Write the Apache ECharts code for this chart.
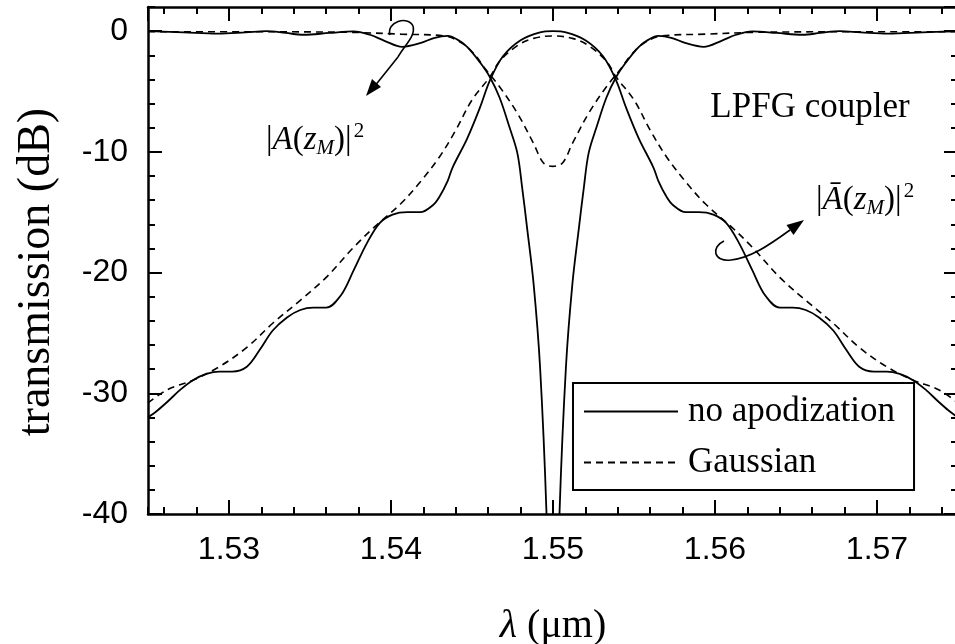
<!DOCTYPE html>
<html>
<head>
<meta charset="utf-8">
<script src="https://cdn.jsdelivr.net/npm/echarts@6/dist/echarts.min.js"></script>
<style>
  html, body { margin: 0; padding: 0; background: #fff; }
  #chart { width: 955px; height: 644px; }
</style>
</head>
<body>
<div id="chart"></div>
<script>
// |A(zM)|^2, no apodization (through port)
const throughPlain = [
  [1.5250, 0], [1.5272, -0.1], [1.5293, -0.2], [1.5310, -0.1], [1.5323, 0],
  [1.5335, -0.15], [1.5346, -0.3], [1.5362, -0.15], [1.5377, -0.02], [1.5387, -0.3],
  [1.5396, -0.8], [1.5407, -1.3], [1.5418, -1.0], [1.5427, -0.55], [1.5435, -0.4],
  [1.5441, -0.7], [1.5447, -1.3], [1.5455, -2.6], [1.5461, -3.8], [1.5467, -5.5],
  [1.5473, -7.9], [1.5478, -10.1], [1.5481, -13.0], [1.5484, -16.3], [1.5488, -20.9],
  [1.5492, -27.8], [1.5496, -40], [1.5500, -60],
  [1.5504, -40], [1.5508, -27.8], [1.5512, -20.9], [1.5516, -16.3], [1.5519, -13.0],
  [1.5522, -10.1], [1.5527, -7.9], [1.5533, -5.5], [1.5539, -3.8], [1.5545, -2.6],
  [1.5553, -1.3], [1.5559, -0.7], [1.5565, -0.4], [1.5573, -0.55], [1.5582, -1.0],
  [1.5593, -1.3], [1.5604, -0.8], [1.5613, -0.3], [1.5623, -0.02], [1.5638, -0.15],
  [1.5654, -0.3], [1.5665, -0.15], [1.5677, 0], [1.5690, -0.1], [1.5707, -0.2],
  [1.5728, -0.1], [1.5750, 0]
];

// |Ā(zM)|^2, no apodization (cross port)
const crossPlain = [
  [1.5250, -32.0], [1.5256, -31.4], [1.5262, -30.7], [1.5270, -29.7], [1.5278, -28.9],
  [1.5286, -28.4], [1.5294, -28.2], [1.5302, -28.2], [1.5311, -27.8], [1.5319, -26.4],
  [1.5327, -24.8], [1.5336, -23.7], [1.5344, -23.1], [1.5352, -22.9], [1.5360, -22.9],
  [1.5369, -21.9], [1.5377, -19.8], [1.5385, -17.6], [1.5393, -15.9], [1.5401, -15.2],
  [1.5410, -15.0], [1.5418, -15.0], [1.5426, -14.4], [1.5430, -13.7], [1.5435, -12.4],
  [1.5438, -11.3], [1.5447, -8.9], [1.5455, -6.3], [1.5461, -4.1], [1.5469, -2.1],
  [1.5480, -0.75], [1.5492, -0.1], [1.5500, 0],
  [1.5508, -0.1], [1.5520, -0.75], [1.5531, -2.1], [1.5539, -4.1], [1.5545, -6.3],
  [1.5553, -8.9], [1.5562, -11.3], [1.5565, -12.4], [1.5570, -13.7], [1.5574, -14.4],
  [1.5582, -15.0], [1.5590, -15.0], [1.5599, -15.2], [1.5607, -15.9], [1.5615, -17.6],
  [1.5623, -19.8], [1.5631, -21.9], [1.5640, -22.9], [1.5648, -22.9], [1.5656, -23.1],
  [1.5664, -23.7], [1.5673, -24.8], [1.5681, -26.4], [1.5689, -27.8], [1.5698, -28.2],
  [1.5706, -28.2], [1.5714, -28.4], [1.5722, -28.9], [1.5730, -29.7], [1.5738, -30.7],
  [1.5744, -31.4], [1.5750, -32.0]
];

// Gaussian apodization, through port
const throughGauss = [
  [1.5250, -0.05], [1.5313, -0.05], [1.5375, -0.1], [1.5406, -0.25], [1.5433, -0.4],
  [1.5444, -1.0], [1.5452, -2.0], [1.5458, -3.1], [1.5467, -4.6], [1.5478, -6.8],
  [1.5488, -9.3], [1.5494, -10.9], [1.5500, -11.2],
  [1.5506, -10.9], [1.5512, -9.3], [1.5522, -6.8], [1.5533, -4.6], [1.5542, -3.1],
  [1.5548, -2.0], [1.5556, -1.0], [1.5567, -0.4], [1.5594, -0.25], [1.5625, -0.1],
  [1.5687, -0.05], [1.5750, -0.05]
];

// Gaussian apodization, cross port
const crossGauss = [
  [1.5250, -30.8], [1.5262, -29.7], [1.5278, -28.9], [1.5294, -27.8], [1.5311, -26.2],
  [1.5327, -24.2], [1.5344, -22.3], [1.5360, -20.4], [1.5377, -17.9], [1.5390, -16.2],
  [1.5406, -14.3], [1.5418, -12.5], [1.5430, -10.4], [1.5440, -8.2], [1.5450, -5.7],
  [1.5461, -3.8], [1.5467, -2.5], [1.5478, -1.2], [1.5488, -0.6], [1.5500, -0.4],
  [1.5512, -0.6], [1.5522, -1.2], [1.5533, -2.5], [1.5539, -3.8], [1.5550, -5.7],
  [1.5560, -8.2], [1.5570, -10.4], [1.5582, -12.5], [1.5594, -14.3], [1.5610, -16.2],
  [1.5623, -17.9], [1.5640, -20.4], [1.5656, -22.3], [1.5673, -24.2], [1.5689, -26.2],
  [1.5706, -27.8], [1.5722, -28.9], [1.5738, -29.7], [1.5750, -30.8]
];

const legendNames = ["no apodization", "Gaussian"];

const serif = "Liberation Serif";
const sans = "Liberation Sans";
const black = "#000";

const gridBox = { left: 148, right: -3, top: 7, bottom: 130, outerBoundsMode: "none", containLabel: false };

function xAxisOf(grid, position, minor) {
  return {
    type: "value",
    gridIndex: grid,
    position: position,
    min: 1.525,
    max: 1.575,
    splitNumber: minor ? 25 : 5,
    axisLine: { show: !minor, onZero: false, lineStyle: { color: black, width: 2.5 } },
    axisTick: { inside: true, length: minor ? 7 : 14, lineStyle: { color: black, width: 2 } },
    axisLabel: {
      show: position === "bottom" && !minor,
      showMinLabel: false,
      showMaxLabel: false,
      margin: 20,
      color: black,
      fontFamily: sans,
      fontSize: 32,
      formatter: (v) => v.toFixed(2),
    },
    splitLine: { show: false },
  };
}

function yAxisOf(grid, position, minor) {
  return {
    type: "value",
    gridIndex: grid,
    position: position,
    min: -40,
    max: 2,
    interval: minor ? 2 : 10,
    axisLine: { show: !minor, onZero: false, lineStyle: { color: black, width: 2.5 } },
    axisTick: { inside: true, length: minor ? 7 : 14, lineStyle: { color: black, width: 2 } },
    axisLabel: {
      show: position === "left" && !minor,
      showMaxLabel: false,
      margin: 20,
      color: black,
      fontFamily: sans,
      fontSize: 32,
    },
    splitLine: { show: false },
  };
}

const xMain = xAxisOf(0, "bottom", false);
xMain.name = "{it|λ} (μm)";
xMain.nameLocation = "middle";
xMain.nameGap = 92;
xMain.nameTextStyle = {
  color: black,
  fontFamily: serif,
  fontSize: 40,
  rich: { it: { fontFamily: serif, fontStyle: "italic", fontSize: 40, color: black } },
};

const annoRich = {
  n: { fontFamily: serif, fontSize: 33, color: black },
  i: { fontFamily: serif, fontStyle: "italic", fontSize: 33, color: black },
  sub: { fontFamily: serif, fontStyle: "italic", fontSize: 21, color: black, padding: [16, 0, 0, 0] },
  sup: { fontFamily: serif, fontSize: 21, color: black, padding: [0, 0, 18, 2] },
};

function curve(x1, y1, cpx1, cpy1, cpx2, cpy2, x2, y2) {
  return {
    type: "bezierCurve",
    shape: { x1, y1, cpx1, cpy1, cpx2, cpy2, x2, y2 },
    style: { stroke: black, fill: null, lineWidth: 1.6 },
  };
}

const chart = echarts.init(document.getElementById("chart"));
chart.setOption({
  animation: false,
  backgroundColor: "#fff",
  grid: [Object.assign({}, gridBox), Object.assign({}, gridBox)],
  xAxis: [xMain, xAxisOf(0, "top", false), xAxisOf(1, "bottom", true), xAxisOf(1, "top", true)],
  yAxis: [yAxisOf(0, "left", false), yAxisOf(0, "right", false), yAxisOf(1, "left", true), yAxisOf(1, "right", true)],
  legend: {
    data: legendNames,
    orient: "vertical",
    left: 573,
    top: 383,
    padding: [11, 19, 10, 10],
    itemGap: 16,
    itemWidth: 94,
    itemHeight: 14,
    itemStyle: { opacity: 0 },
    borderColor: black,
    borderWidth: 2,
    borderRadius: 0,
    selectedMode: false,
    textStyle: { color: black, fontFamily: serif, fontSize: 35, padding: [0, 0, 0, 5] },
  },
  series: [
    {
      name: legendNames[0], type: "line", data: throughPlain, symbol: "none", smooth: 0.35,
      lineStyle: { color: black, width: 1.8 }, itemStyle: { color: black },
    },
    {
      name: legendNames[1], type: "line", data: throughGauss, symbol: "none", smooth: 0.35,
      lineStyle: { color: black, width: 1.6, type: [7, 5] }, itemStyle: { color: black },
    },
    {
      name: legendNames[0], type: "line", data: crossPlain, symbol: "none", smooth: 0.35,
      lineStyle: { color: black, width: 1.8 }, itemStyle: { color: black },
    },
    {
      name: legendNames[1], type: "line", data: crossGauss, symbol: "none", smooth: 0.35,
      lineStyle: { color: black, width: 1.6, type: [7, 5] }, itemStyle: { color: black },
    },
  ],
  graphic: [
    {
      type: "text", x: 37, y: 272, rotation: Math.PI / 2,
      style: {
        text: "transmission (dB)", fill: black, fontFamily: serif, fontSize: 46,
        align: "center", verticalAlign: "middle", textAlign: "center", textVerticalAlign: "middle",
      },
    },
    {
      type: "text", x: 810, y: 108,
      style: {
        text: "LPFG coupler", fill: black, fontFamily: serif, fontSize: 35,
        align: "center", verticalAlign: "middle", textAlign: "center", textVerticalAlign: "middle",
      },
    },
    {
      type: "text", x: 266, y: 140,
      style: {
        text: "{n||}{i|A}{n|(}{i|z}{sub|M}{n|)|}{sup|2}", rich: annoRich, fill: black,
        align: "left", verticalAlign: "middle", textAlign: "left", textVerticalAlign: "middle",
      },
    },
    {
      type: "text", x: 816, y: 200,
      style: {
        text: "{n||}{i|Ā}{n|(}{i|z}{sub|M}{n|)|}{sup|2}", rich: annoRich, fill: black,
        align: "left", verticalAlign: "middle", textAlign: "left", textVerticalAlign: "middle",
      },
    },
    // left arrow: loop around the through-port curve, pointing down-left
    curve(390, 35, 386, 22, 408, 15, 413, 26),
    curve(413, 26, 416, 36, 404, 46, 398, 57),
    {
      type: "line",
      shape: { x1: 398, y1: 57, x2: 374, y2: 87 },
      style: { stroke: black, lineWidth: 1.6 },
    },
    {
      type: "polygon",
      shape: { points: [[366, 96], [381, 87], [372, 79]] },
      style: { fill: black },
    },
    // right arrow: loop around the cross-port curves, pointing up-right
    curve(724, 241, 711, 247, 713, 262, 731, 260),
    curve(731, 260, 750, 258, 768, 246, 790, 230),
    {
      type: "polygon",
      shape: { points: [[804, 220], [793.5, 235], [786.5, 225]] },
      style: { fill: black },
    },
  ],
});
</script>
</body>
</html>
